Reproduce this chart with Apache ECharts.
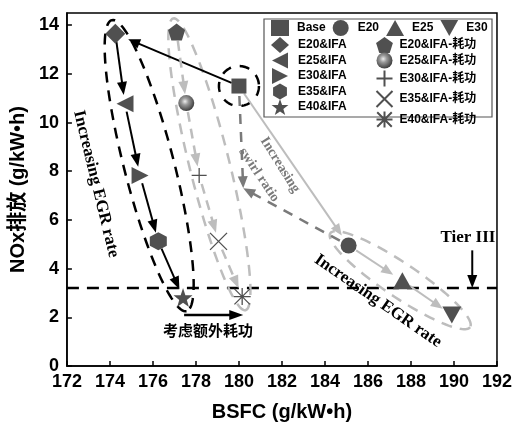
<!DOCTYPE html>
<html>
<head>
<meta charset="utf-8">
<script src="https://cdn.jsdelivr.net/npm/echarts@6/dist/echarts.min.js"></script>
<style>
  html, body { margin: 0; padding: 0; background: #fff; }
  #main { width: 515px; height: 427px; }
</style>
</head>
<body>
<div id="main"></div>
<script>
// ---- data ----
// baseline operating point
const baseName = 'Base';
const baseBsfc = [180.0];
const baseNox = [11.5];
// EGR sweep without IFA
const egrNames = ['E20', 'E25', 'E30'];
const egrBsfc = [185.1, 187.6, 189.9];
const egrNox = [4.95, 3.5, 2.1];
// EGR sweep with IFA
const ifaNames = ['E20&IFA', 'E25&IFA', 'E30&IFA', 'E35&IFA', 'E40&IFA'];
const ifaBsfc = [174.25, 174.7, 175.4, 176.25, 177.4];
const ifaNox = [13.65, 10.77, 7.82, 5.12, 2.81];
// EGR sweep with IFA, extra pumping work counted
const workNames = ['E20&IFA-耗功', 'E25&IFA-耗功', 'E30&IFA-耗功', 'E35&IFA-耗功', 'E40&IFA-耗功'];
const workBsfc = [177.1, 177.55, 178.15, 179.05, 180.15];
const workNox = [13.72, 10.8, 7.83, 5.12, 2.85];
// end of the swirl-ratio arrows
const swirlPoint = [180.2, 7.3];
// emission limit
const tierIII = 3.2;
// axes
const xMin = 172, xMax = 192, xStep = 2;
const yMin = 0, yMax = 14.5, yStep = 2;

// ---- styles ----
const MARK = '#505050';
const LIGHT = '#bdbdbd';
const MID = '#7a7a7a';
const SANS = 'Liberation Sans, Arial, Noto Sans CJK SC, sans-serif';
const SERIF = 'Liberation Serif, Times New Roman, serif';

const SYM = {
  leftTri: 'path://M-10,0L10,-10L10,10Z',
  rightTri: 'path://M10,0L-10,-10L-10,10Z',
  downTri: 'path://M-10,-9L10,-9L0,9Z',
  pentagon: 'path://M0,-10L9.51,-3.09L5.88,8.09L-5.88,8.09L-9.51,-3.09Z',
  hexagon: 'path://M0,-10L8.66,-5L8.66,5L0,10L-8.66,5L-8.66,-5Z',
  star: 'path://M0,-10L2.35,-3.24L9.51,-3.09L3.8,1.24L5.88,8.09L0,4L-5.88,8.09L-3.8,1.24L-9.51,-3.09L-2.35,-3.24Z',
  plus: 'path://M0,-10L0,10M-10,0L10,0',
  cross: 'path://M-10,-10L10,10M-10,10L10,-10',
  asterisk: 'path://M-10,-10L10,10M-10,10L10,-10M0,-11L0,11M-11,0L11,0'
};

const sphereFill = {
  type: 'radial', x: 0.42, y: 0.4, r: 0.62,
  colorStops: [
    { offset: 0, color: '#eeeeee' },
    { offset: 0.35, color: '#9a9a9a' },
    { offset: 1, color: '#3a3a3a' }
  ]
};

function solidMarker(color) { return { color: color, opacity: 1 }; }
function strokeMarker() { return { color: 'none', borderColor: MARK, borderWidth: 1.3, opacity: 1 }; }

function point(name, x, y, symbol, size, itemStyle) {
  return {
    type: 'scatter', name: name, data: [[x, y]], symbol: symbol, symbolSize: size,
    itemStyle: itemStyle, z: 10, silent: true
  };
}

const pt = (xs, ys, i) => [xs[i], ys[i]];

// arrow drawn through the cartesian scales
function arrowSeries(pairs, st) {
  return {
    type: 'custom', coordinateSystem: 'cartesian2d', silent: true, z: st.z || 4,
    data: pairs.map(p => [p[0][0], p[0][1], p[1][0], p[1][1]]),
    renderItem: function (params, api) {
      const a = api.coord([api.value(0), api.value(1)]);
      const b = api.coord([api.value(2), api.value(3)]);
      const dx = b[0] - a[0], dy = b[1] - a[1];
      const L = Math.hypot(dx, dy), ux = dx / L, uy = dy / L;
      const s = [a[0] + ux * st.startGap, a[1] + uy * st.startGap];
      const tip = [b[0] - ux * st.endGap, b[1] - uy * st.endGap];
      const hl = st.headLen, hw = st.headWidth / 2;
      const hb = [tip[0] - ux * hl, tip[1] - uy * hl];
      const head = [tip, [hb[0] - uy * hw, hb[1] + ux * hw], [hb[0] + uy * hw, hb[1] - ux * hw]];
      return {
        type: 'group', children: [
          { type: 'line', shape: { x1: s[0], y1: s[1], x2: hb[0] + ux * 2, y2: hb[1] + uy * 2 },
            style: { stroke: st.color, lineWidth: st.width, lineDash: st.dash || null, fill: null } },
          { type: 'polygon', shape: { points: head }, style: { fill: st.color } }
        ]
      };
    }
  };
}

// dashed ellipse enclosing a chain of points (from first to last)
function ellipseSeries(pairs, st) {
  return {
    type: 'custom', coordinateSystem: 'cartesian2d', silent: true, z: 2,
    data: pairs.map(p => [p[0][0], p[0][1], p[1][0], p[1][1]]),
    renderItem: function (params, api) {
      const a = api.coord([api.value(0), api.value(1)]);
      const b = api.coord([api.value(2), api.value(3)]);
      const dx = b[0] - a[0], dy = b[1] - a[1];
      const L = Math.hypot(dx, dy);
      const ux = L ? dx / L : 1, uy = L ? dy / L : 0;
      const cx = (a[0] + b[0]) / 2 + ux * st.shift, cy = (a[1] + b[1]) / 2 + uy * st.shift;
      const A = L / 2 + st.extend, B = st.halfWidth;
      const pts = [];
      for (let i = 0; i < 120; i++) {
        const t = i / 120 * Math.PI * 2;
        const c = Math.cos(t) * A, s = Math.sin(t) * B;
        pts.push([cx + ux * c - uy * s, cy + uy * c + ux * s]);
      }
      return {
        type: 'polygon', shape: { points: pts },
        style: { fill: null, stroke: st.color, lineWidth: st.width, lineDash: st.dash }
      };
    }
  };
}

const basePt = [baseBsfc[0], baseNox[0]];
const chain = (xs, ys) => xs.slice(1).map((x, i) => [pt(xs, ys, i), pt(xs, ys, i + 1)]);

const series = [
  // Tier III limit
  {
    type: 'line', name: 'Tier III', data: [[xMin, tierIII], [xMax, tierIII]],
    symbol: 'none', silent: true, z: 1,
    lineStyle: { color: '#000', width: 2.5, type: [12, 8] }
  },
  // enclosing dashed outlines
  ellipseSeries([[pt(ifaBsfc, ifaNox, 0), pt(ifaBsfc, ifaNox, 4)]],
    { extend: 14, halfWidth: 25, shift: 0, color: '#000', width: 2.5, dash: [11, 8] }),
  ellipseSeries([[pt(workBsfc, workNox, 0), pt(workBsfc, workNox, 4)]],
    { extend: 14, halfWidth: 20, shift: 0, color: LIGHT, width: 2.5, dash: [11, 8] }),
  ellipseSeries([[pt(egrBsfc, egrNox, 0), pt(egrBsfc, egrNox, 2)]],
    { extend: 22, halfWidth: 17, shift: 0, color: LIGHT, width: 2.5, dash: [11, 8] }),
  ellipseSeries([[basePt, basePt]],
    { extend: 20, halfWidth: 20, shift: 0, color: '#000', width: 2.5, dash: [10, 9] }),
  // swirl ratio path (light solid) and EGR path without IFA
  arrowSeries([[basePt, pt(egrBsfc, egrNox, 0)]],
    { color: LIGHT, width: 2, startGap: 9, endGap: 12, headLen: 12, headWidth: 10 }),
  arrowSeries(chain(egrBsfc, egrNox),
    { color: LIGHT, width: 2, startGap: 9, endGap: 11, headLen: 12, headWidth: 10 }),
  // swirl ratio dashed arrows
  arrowSeries([[basePt, swirlPoint], [pt(egrBsfc, egrNox, 0), swirlPoint]],
    { color: MID, width: 2.5, dash: [10, 8], startGap: 10, endGap: 0, headLen: 12, headWidth: 10 }),
  // IFA: base to E20&IFA, then along EGR
  arrowSeries([[basePt, pt(ifaBsfc, ifaNox, 0)]],
    { color: '#000', width: 2, startGap: 8, endGap: 14, headLen: 12, headWidth: 10, z: 5 }),
  arrowSeries(chain(ifaBsfc, ifaNox),
    { color: '#000', width: 2, startGap: 8, endGap: 9, headLen: 13, headWidth: 10, z: 5 }),
  // IFA with extra work
  arrowSeries(chain(workBsfc, workNox),
    { color: LIGHT, width: 2.5, dash: [10, 7], startGap: 9, endGap: 9, headLen: 13, headWidth: 10, z: 5 }),
  // annotation arrows
  arrowSeries([[[190.85, 4.75], [190.85, tierIII]]],
    { color: '#000', width: 2, startGap: 0, endGap: 0, headLen: 13, headWidth: 10, z: 6 }),
  arrowSeries([[[177.45, 2.1], [180.2, 2.1]]],
    { color: '#000', width: 2.5, startGap: 0, endGap: 0, headLen: 14, headWidth: 10, z: 6 }),

  // markers
  point(baseName, baseBsfc[0], baseNox[0], 'rect', 15, solidMarker(MARK)),
  point(egrNames[0], egrBsfc[0], egrNox[0], 'circle', 16, solidMarker(MARK)),
  point(egrNames[1], egrBsfc[1], egrNox[1], 'triangle', [19, 17], solidMarker(MARK)),
  point(egrNames[2], egrBsfc[2], egrNox[2], SYM.downTri, [19, 17], solidMarker(MARK)),
  point(ifaNames[0], ifaBsfc[0], ifaNox[0], 'diamond', [20, 20], solidMarker(MARK)),
  point(ifaNames[1], ifaBsfc[1], ifaNox[1], SYM.leftTri, [17, 17], solidMarker(MARK)),
  point(ifaNames[2], ifaBsfc[2], ifaNox[2], SYM.rightTri, [17, 17], solidMarker(MARK)),
  point(ifaNames[3], ifaBsfc[3], ifaNox[3], SYM.hexagon, [17, 18], solidMarker(MARK)),
  point(ifaNames[4], ifaBsfc[4], ifaNox[4], SYM.star, [19, 19], solidMarker(MARK)),
  point(workNames[0], workBsfc[0], workNox[0], SYM.pentagon, [17, 17], solidMarker(MARK)),
  point(workNames[1], workBsfc[1], workNox[1], 'circle', 16, solidMarker(sphereFill)),
  point(workNames[2], workBsfc[2], workNox[2], SYM.plus, [15, 15], strokeMarker()),
  point(workNames[3], workBsfc[3], workNox[3], SYM.cross, [17, 17], strokeMarker()),
  point(workNames[4], workBsfc[4], workNox[4], SYM.asterisk, [17, 17], strokeMarker())
];

const legendText = (pad) => ({ fontFamily: SANS, fontWeight: 'bold', fontSize: 12, color: '#000', padding: [0, 0, 0, pad], lineHeight: 14 });

const option = {
  backgroundColor: '#fff',
  animation: false,
  grid: { left: 63, right: 18, top: 13, bottom: 61, show: true, borderColor: '#000', borderWidth: 1.5, backgroundColor: 'transparent' },
  xAxis: {
    type: 'value', min: xMin, max: xMax, interval: xStep,
    name: 'BSFC (g/kW•h)', nameLocation: 'middle', nameGap: 36,
    nameTextStyle: { fontFamily: SANS, fontWeight: 'bold', fontSize: 20, color: '#000' },
    axisLine: { lineStyle: { color: '#000', width: 1.5 } },
    axisTick: { inside: true, length: 5, lineStyle: { color: '#000', width: 1.5 } },
    axisLabel: { fontFamily: SANS, fontWeight: 'bold', fontSize: 18, color: '#000', margin: 7 },
    splitLine: { show: false }
  },
  yAxis: {
    type: 'value', min: yMin, max: yMax, interval: yStep,
    name: 'NOx排放 (g/kW•h)', nameLocation: 'middle', nameGap: 33, nameRotate: 90,
    nameTextStyle: { fontFamily: SANS, fontWeight: 'bold', fontSize: 20, color: '#000' },
    axisLine: { lineStyle: { color: '#000', width: 1.5 } },
    axisTick: { inside: true, length: 5, lineStyle: { color: '#000', width: 1.5 } },
    axisLabel: { fontFamily: SANS, fontWeight: 'bold', fontSize: 18, color: '#000', margin: 8, showMaxLabel: false,
      formatter: v => (v % 2 === 0 ? String(v) : '') },
    splitLine: { show: false }
  },
  legend: [
    { data: [baseName].concat(egrNames), orient: 'horizontal', left: 266, top: 15, itemWidth: 18, itemHeight: 16,
      itemGap: 7, selectedMode: false, textStyle: legendText(3) },
    { data: ifaNames, orient: 'vertical', left: 266, top: 32, itemWidth: 18, itemHeight: 16,
      itemGap: -0.5, selectedMode: false, textStyle: legendText(4) },
    { data: workNames, orient: 'vertical', left: 369, top: 32, itemWidth: 18, itemHeight: 16,
      itemGap: -0.5, selectedMode: false, textStyle: legendText(1) }
  ],
  graphic: [
    { type: 'rect', shape: { x: 264, y: 19, width: 228, height: 98 }, style: { fill: 'none', stroke: '#555', lineWidth: 1.2 }, z: 1 },
    { type: 'text', x: 468, y: 238, style: { text: 'Tier III', font: 'bold 17px ' + SERIF, fill: '#000', align: 'center', verticalAlign: 'middle' }, z: 20 },
    { type: 'text', x: 208, y: 330, style: { text: '考虑额外耗功', font: 'bold 15px Noto Sans CJK SC, sans-serif', fill: '#000', align: 'center', verticalAlign: 'middle' }, z: 20 },
    { type: 'text', x: 96, y: 184, rotation: -1.333, style: { text: 'Increasing EGR rate', font: 'bold 17px ' + SERIF, fill: '#000', align: 'center', verticalAlign: 'middle' }, z: 20 },
    { type: 'text', x: 378, y: 301, rotation: -0.606, style: { text: 'Increasing EGR rate', font: 'bold 17px ' + SERIF, fill: '#000', align: 'center', verticalAlign: 'middle' }, z: 20 },
    { type: 'text', x: 280, y: 165, rotation: -1.01, style: { text: 'Increasing', font: 'bold 14px ' + SERIF, fill: MID, align: 'center', verticalAlign: 'middle' }, z: 20 },
    { type: 'text', x: 259, y: 175, rotation: -0.98, style: { text: 'swirl ratio', font: 'bold 14px ' + SERIF, fill: MID, align: 'center', verticalAlign: 'middle' }, z: 20 }
  ],
  series: series
};

const chart = echarts.init(document.getElementById('main'), null, { renderer: 'canvas' });
chart.setOption(option);
</script>
</body>
</html>
